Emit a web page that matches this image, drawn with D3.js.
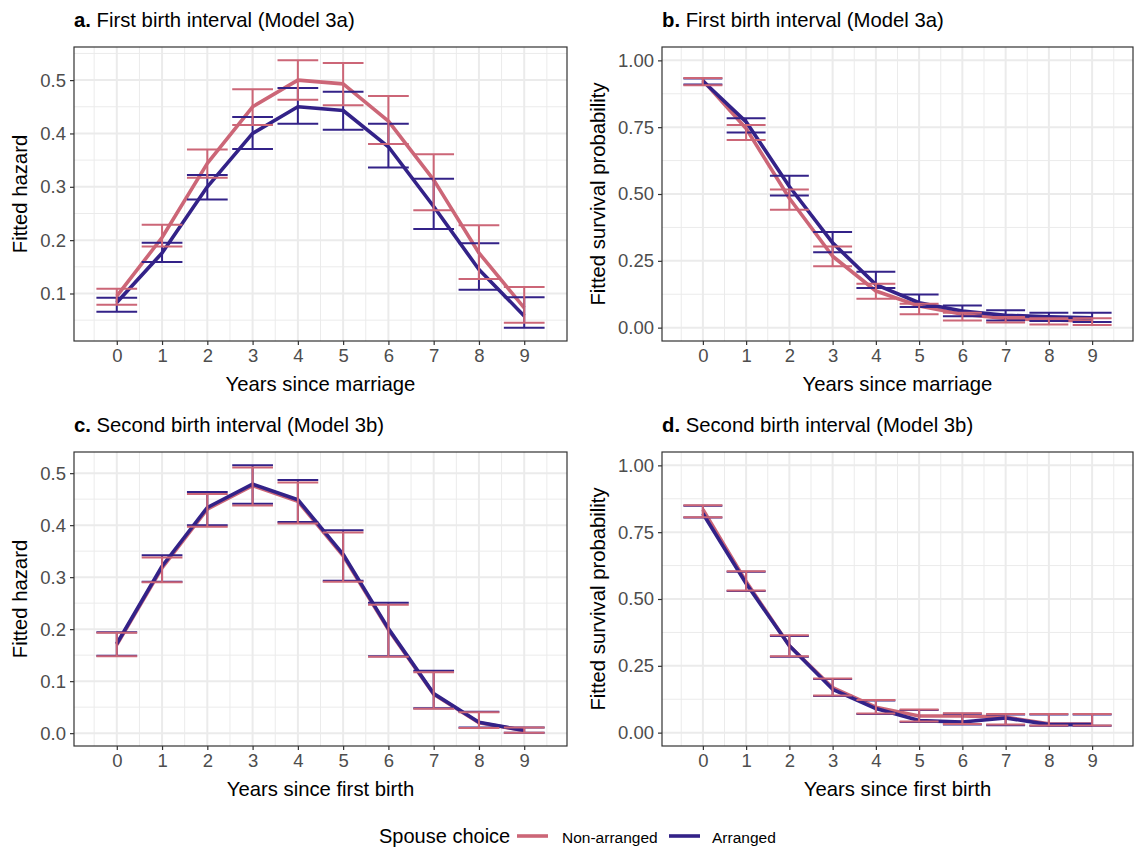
<!DOCTYPE html>
<meta charset="utf-8">
<style>
  body { margin: 0; background: #fff; }
  svg text { font-family: "Liberation Sans", Arial, sans-serif; }
</style>
<svg width="1134" height="848"></svg>
<script src="https://d3js.org/d3.v7.min.js"></script>
<script>

var years = [0, 1, 2, 3, 4, 5, 6, 7, 8, 9];
var groups = ["Non-arranged", "Arranged"];
var colours = ["#CC6677", "#332288"];

// a. first birth interval, hazard
var aNonFit = [0.095, 0.205, 0.344, 0.450, 0.500, 0.493, 0.423, 0.313, 0.176, 0.073],
    aNonLo  = [0.079, 0.188, 0.317, 0.416, 0.463, 0.453, 0.380, 0.256, 0.127, 0.045],
    aNonHi  = [0.109, 0.229, 0.370, 0.483, 0.537, 0.532, 0.470, 0.361, 0.228, 0.112];
var aArrFit = [0.083, 0.176, 0.300, 0.400, 0.450, 0.443, 0.375, 0.263, 0.145, 0.058],
    aArrLo  = [0.066, 0.159, 0.276, 0.371, 0.418, 0.407, 0.336, 0.221, 0.107, 0.036],
    aArrHi  = [0.092, 0.195, 0.322, 0.431, 0.485, 0.478, 0.418, 0.315, 0.194, 0.093];

// b. first birth interval, survival
var bNonFit = [0.925, 0.745, 0.484, 0.267, 0.137, 0.081, 0.050, 0.034, 0.029, 0.025],
    bNonLo  = [0.907, 0.702, 0.441, 0.230, 0.108, 0.050, 0.027, 0.019, 0.012, 0.010],
    bNonHi  = [0.934, 0.758, 0.517, 0.304, 0.164, 0.089, 0.056, 0.040, 0.035, 0.035];
var bArrFit = [0.923, 0.770, 0.528, 0.317, 0.161, 0.093, 0.062, 0.046, 0.041, 0.037],
    bArrLo  = [0.910, 0.730, 0.494, 0.282, 0.148, 0.077, 0.043, 0.027, 0.025, 0.021],
    bArrHi  = [0.932, 0.783, 0.568, 0.358, 0.209, 0.124, 0.083, 0.065, 0.056, 0.056];

// c. second birth interval, hazard
var cNonFit = [0.170, 0.318, 0.431, 0.476, 0.446, 0.341, 0.199, 0.075, 0.020, 0.005],
    cNonLo  = [0.148, 0.290, 0.397, 0.438, 0.403, 0.291, 0.147, 0.047, 0.010, 0.001],
    cNonHi  = [0.193, 0.338, 0.460, 0.511, 0.482, 0.386, 0.247, 0.117, 0.040, 0.011];
var cArrFit = [0.172, 0.321, 0.434, 0.479, 0.449, 0.344, 0.201, 0.076, 0.021, 0.005],
    cArrLo  = [0.149, 0.291, 0.400, 0.441, 0.406, 0.293, 0.148, 0.048, 0.011, 0.001],
    cArrHi  = [0.194, 0.342, 0.464, 0.515, 0.487, 0.390, 0.251, 0.120, 0.041, 0.011];

// d. second birth interval, survival
var dNonFit = [0.835, 0.565, 0.325, 0.168, 0.095, 0.062, 0.062, 0.058, 0.033, 0.032],
    dNonLo  = [0.806, 0.532, 0.286, 0.139, 0.072, 0.042, 0.032, 0.030, 0.027, 0.027],
    dNonHi  = [0.851, 0.604, 0.364, 0.203, 0.122, 0.087, 0.073, 0.070, 0.070, 0.070];
var dArrFit = [0.820, 0.558, 0.325, 0.162, 0.090, 0.045, 0.040, 0.055, 0.030, 0.030],
    dArrLo  = [0.805, 0.530, 0.284, 0.137, 0.070, 0.040, 0.030, 0.028, 0.026, 0.026],
    dArrHi  = [0.849, 0.602, 0.362, 0.201, 0.120, 0.085, 0.071, 0.068, 0.068, 0.068];

var hazardTicks = [0.1, 0.2, 0.3, 0.4, 0.5],
    hazardTicksC = [0.0, 0.1, 0.2, 0.3, 0.4, 0.5],
    survTicks = [0, 0.25, 0.5, 0.75, 1];

var panels = [
  { tag: "a.", title: "First birth interval (Model 3a)", left: 74, top: 47, width: 493, height: 294, ylabOff: 47,
    ylab: "Fitted hazard", xlab: "Years since marriage", ticks: hazardTicks, fmt: d3.format(".1f"), limits: null,
    series: [[aNonFit, aNonLo, aNonHi], [aArrFit, aArrLo, aArrHi]] },
  { tag: "b.", title: "First birth interval (Model 3a)", left: 662, top: 47, width: 471, height: 294, ylabOff: 57,
    ylab: "Fitted survival probability", xlab: "Years since marriage", ticks: survTicks, fmt: d3.format(".2f"), limits: [0, 1],
    series: [[bNonFit, bNonLo, bNonHi], [bArrFit, bArrLo, bArrHi]] },
  { tag: "c.", title: "Second birth interval (Model 3b)", left: 74, top: 452, width: 493, height: 294, ylabOff: 47,
    ylab: "Fitted hazard", xlab: "Years since first birth", ticks: hazardTicksC, fmt: d3.format(".1f"), limits: null,
    series: [[cNonFit, cNonLo, cNonHi], [cArrFit, cArrLo, cArrHi]] },
  { tag: "d.", title: "Second birth interval (Model 3b)", left: 662, top: 452, width: 471, height: 294, ylabOff: 57,
    ylab: "Fitted survival probability", xlab: "Years since first birth", ticks: survTicks, fmt: d3.format(".2f"), limits: [0, 1],
    series: [[dNonFit, dNonLo, dNonHi], [dArrFit, dArrLo, dArrHi]] }
];

var svg = d3.select("svg");

// ggplot-style 5% expansion
function expand(lo, hi) {
  var pad = (hi - lo) * 0.05;
  return [lo - pad, hi + pad];
}

panels.forEach(function(p) {
  var g = svg.append("g").attr("transform", "translate(" + p.left + "," + p.top + ")");

  var x = d3.scaleLinear().domain(expand(-0.45, 9.45)).range([0, p.width]);
  var lims = p.limits || [
    d3.min(p.series, function(s) { return d3.min(s[1]); }),
    d3.max(p.series, function(s) { return d3.max(s[2]); })
  ];
  var y = d3.scaleLinear().domain(expand(lims[0], lims[1])).range([p.height, 0]);

  // minor grid
  var step = p.ticks[1] - p.ticks[0];
  var yMinor = d3.range(p.ticks[0] - step / 2, y.domain()[1], step)
    .filter(function(v) { return v > y.domain()[0] && v < y.domain()[1]; });
  var xMinor = d3.range(-0.5, 10, 1);

  g.selectAll(".xminor").data(xMinor).enter().append("line")
    .attr("x1", x).attr("x2", x).attr("y1", 0).attr("y2", p.height)
    .attr("stroke", "#EBEBEB").attr("stroke-width", 1);
  g.selectAll(".yminor").data(yMinor).enter().append("line")
    .attr("y1", y).attr("y2", y).attr("x1", 0).attr("x2", p.width)
    .attr("stroke", "#EBEBEB").attr("stroke-width", 1);
  g.selectAll(".xmajor").data(years).enter().append("line")
    .attr("x1", x).attr("x2", x).attr("y1", 0).attr("y2", p.height)
    .attr("stroke", "#EBEBEB").attr("stroke-width", 2);
  g.selectAll(".ymajor").data(p.ticks).enter().append("line")
    .attr("y1", y).attr("y2", y).attr("x1", 0).attr("x2", p.width)
    .attr("stroke", "#EBEBEB").attr("stroke-width", 2);

  // lines first, then error bars (navy under pink)
  var line = d3.line().x(function(d, i) { return x(years[i]); }).y(function(d) { return y(d); });
  p.series.forEach(function(s, k) {
    g.append("path").datum(s[0])
      .attr("d", line).attr("fill", "none")
      .attr("stroke", colours[k]).attr("stroke-width", 3.6).attr("stroke-linejoin", "round");
  });

  [1, 0].forEach(function(k) {
    var s = p.series[k];
    var eb = g.append("g").attr("stroke", colours[k]).attr("stroke-width", 2).attr("fill", "none");
    years.forEach(function(yr, i) {
      var x0 = x(yr - 0.45), x1 = x(yr + 0.45), xc = x(yr);
      eb.append("path")
        .attr("d", "M" + x0 + "," + y(s[2][i]) + "H" + x1 +
                   "M" + xc + "," + y(s[2][i]) + "V" + y(s[1][i]) +
                   "M" + x0 + "," + y(s[1][i]) + "H" + x1);
    });
  });

  // panel border
  g.append("rect").attr("width", p.width).attr("height", p.height)
    .attr("fill", "none").attr("stroke", "#333333").attr("stroke-width", 1.2);

  // axes
  var xAxis = g.append("g").attr("transform", "translate(0," + p.height + ")")
    .call(d3.axisBottom(x).tickValues(years).tickSize(4).tickPadding(4).tickFormat(d3.format("d")));
  var yAxis = g.append("g")
    .call(d3.axisLeft(y).tickValues(p.ticks).tickSize(4).tickPadding(4).tickFormat(p.fmt));
  [xAxis, yAxis].forEach(function(a) {
    a.select(".domain").remove();
    a.selectAll("line").attr("stroke", "#333333").attr("stroke-width", 1.2);
    a.selectAll("text").attr("fill", "#4D4D4D").style("font-size", "18.5px");
  });

  // titles
  var t = svg.append("text").attr("x", p.left).attr("y", p.top - 20)
    .style("font-size", "20.3px").attr("fill", "#000");
  t.append("tspan").attr("font-weight", "bold").text(p.tag);
  t.append("tspan").text(" " + p.title);

  svg.append("text")
    .attr("x", p.left + p.width / 2).attr("y", p.top + p.height + 50)
    .attr("text-anchor", "middle").style("font-size", "20.3px").attr("fill", "#000")
    .text(p.xlab);

  svg.append("text")
    .attr("transform", "translate(" + (p.left - p.ylabOff) + "," + (p.top + p.height / 2) + ") rotate(-90)")
    .attr("text-anchor", "middle").style("font-size", "20.3px").attr("fill", "#000")
    .text(p.ylab);
});

// legend
var legend = svg.append("g");
legend.append("text").attr("x", 379).attr("y", 843).style("font-size", "20px").text("Spouse choice");
var keyX = [517, 669], labelX = [562, 712];
groups.forEach(function(name, k) {
  legend.append("line").attr("x1", keyX[k]).attr("x2", keyX[k] + 31)
    .attr("y1", 836).attr("y2", 836)
    .attr("stroke", colours[k]).attr("stroke-width", 3.6);
  legend.append("text").attr("x", labelX[k]).attr("y", 843)
    .style("font-size", "15.5px").text(name);
});

</script>
